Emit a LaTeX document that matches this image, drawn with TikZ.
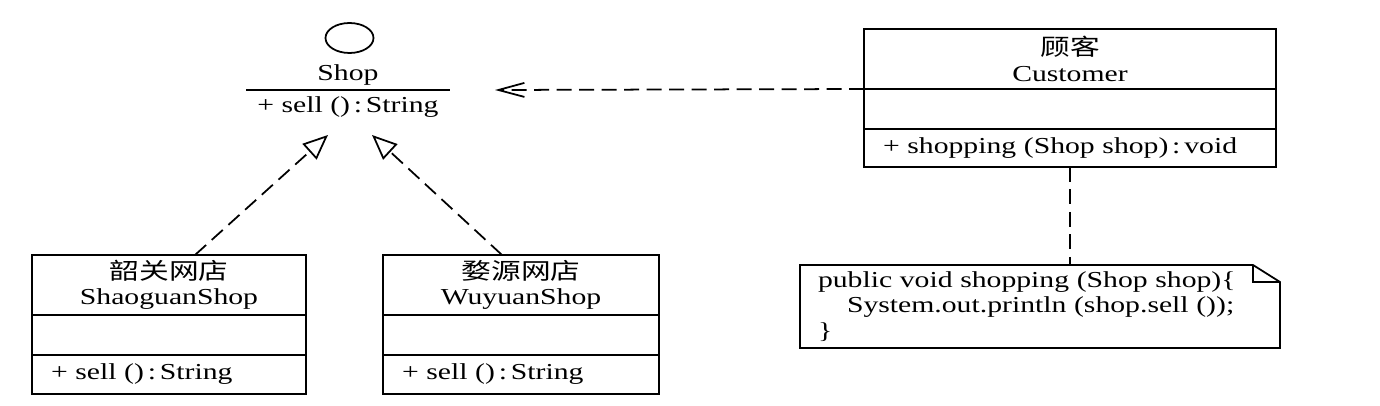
\documentclass[tikz,border=0pt]{standalone}
\usepackage{fontspec}
\setmainfont{Liberation Serif}[FakeStretch=1.3]
\newfontfamily\cjk{Noto Sans CJK SC}[FakeStretch=1.3]
\usetikzlibrary{arrows.meta,positioning,calc,shapes.geometric}

\begin{document}
\begin{tikzpicture}[
  font=\fontsize{13}{14.5}\selectfont, line width=1pt,
  hd/.style={draw, line width=1pt, minimum width=#1, minimum height=1.2cm,
    inner sep=0pt, outer sep=0pt, align=center},
  attr/.style={draw, line width=1pt, minimum width=#1, minimum height=0.8cm,
    inner sep=0pt, outer sep=0pt},
  oper/.style={draw, line width=1pt, text width=#1, inner xsep=0.38cm,
    inner ysep=0pt, outer sep=0pt, minimum height=0.78cm, align=left},
  memo/.style={minimum width=9.6cm, minimum height=1.66cm, text width=8.88cm,
    inner xsep=0.36cm, inner ysep=0pt, outer sep=0pt, align=left},
  dsh/.style={line width=1pt, dash pattern=on 8.5pt off 4.3pt},
  real/.style={dsh, -{Triangle[open, length=5mm, width=4.2mm]}},
  dep/.style={dsh, -{Straight Barb[length=5.2mm, width=2.8mm]}},
]
\useasboundingbox (0,0) rectangle (27.6,-8.12);
% interface
\node[draw, ellipse, minimum width=0.96cm, minimum height=0.6cm,
  inner sep=0pt] (ishop) at (6.99,-0.76) {};
\node[inner sep=0pt, minimum width=4.08cm, minimum height=0.6cm]
  (shop) at (6.96,-1.5) {Shop};
\node[inner sep=0pt, outer sep=0pt, minimum width=4.08cm, minimum height=0.68cm]
  (shopop) at (6.96,-2.14) {+ sell ()\,:\,String};
\draw (shopop.north west) -- (shopop.north east);
% shops
\foreach \n/\zh/\en/\x/\w/\tw in {
    sg/韶关网店/ShaoguanShop/3.38/5.48cm/4.72cm,
    wy/婺源网店/WuyuanShop/10.42/5.52cm/4.76cm} {
  \node[hd=\w] (\n-t) at (\x,-5.7) {{\cjk \zh}\\\en};
  \node[attr=\w, below=0pt of \n-t] (\n-m) {};
  \node[oper=\tw, below=0pt of \n-m] (\n-b) {+ sell ()\,:\,String};
}
% customer
\node[hd=8.24cm] (cu-t) at (21.4,-1.18) {{\cjk 顾客}\\Customer};
\node[attr=8.24cm, below=0pt of cu-t] (cu-m) {};
\node[oper=7.48cm, below=0pt of cu-m, minimum height=0.76cm]
  (cu-b) {+ shopping (Shop shop)\,:\,void};
% note
\node[memo] (memo) at (20.8,-6.13) {public void shopping (Shop shop)\{\\
  \hspace*{0.58cm}System.out.println (shop.sell ());\\\}};
\draw (memo.north west) -- ([xshift=-0.54cm]memo.north east)
  -- ([yshift=-0.34cm]memo.north east) -- (memo.south east)
  -- (memo.south west) -- cycle;
\draw ([xshift=-0.54cm]memo.north east) |- ([yshift=-0.34cm]memo.north east);
% relations
\draw[real] ($(sg-t.north)+(0.52,0)$) -- ($(shopop.south)+(-0.4,-0.22)$);
\draw[real] ($(wy-t.north)+(-0.38,0)$) -- ($(shopop.south)+(0.48,-0.22)$);
\draw[dep] (cu-t.south west) -- ($(shopop.north east)+(0.9,0)$);
\draw[dsh] (cu-b.south) -- (cu-b.south |- memo.north);
\end{tikzpicture}
\end{document}
